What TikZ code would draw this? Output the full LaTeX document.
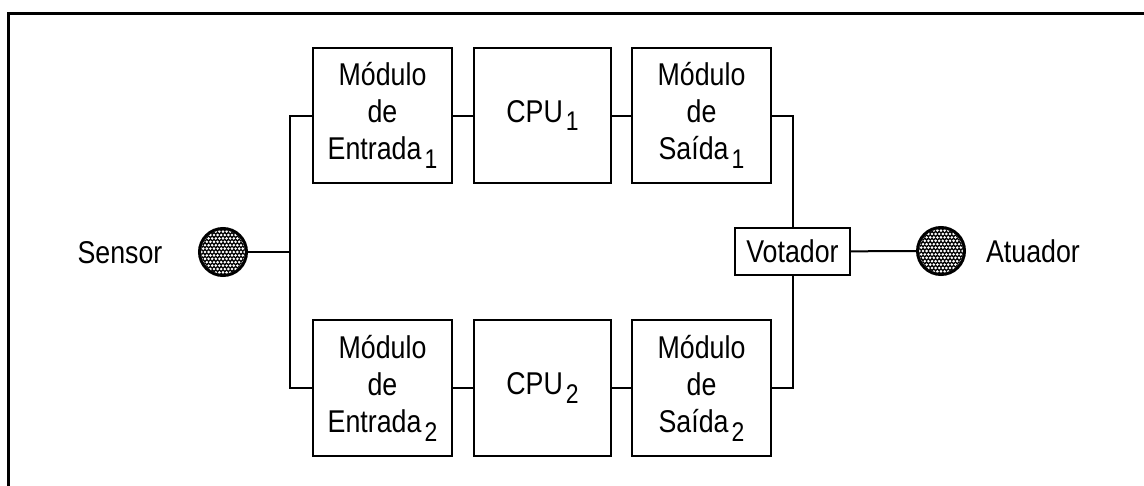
\documentclass[tikz,border=0pt]{standalone}
\usepackage{fontspec}
\setmainfont{Liberation Sans}[FakeStretch=0.85]
\newcommand\subs[1]{\hspace{3pt}\raisebox{-9pt}{\fontsize{27}{27}\selectfont #1}}
\begin{document}
\begin{tikzpicture}[x=1pt,y=-1pt,
  blk/.style={draw,line width=2pt,inner sep=0pt,align=center,minimum width=139pt,minimum height=135pt,font=\fontsize{31.5}{37}\selectfont},
  conn/.style={line width=2pt},
  lbl/.style={font=\fontsize{31.5}{37}\selectfont,inner sep=0pt},
  io/.style={circle,draw,line width=3pt,minimum size=47pt,inner sep=0pt}]
\useasboundingbox (0,0) rectangle (1144,485);
\draw[line width=3pt] (8,486) -- (8,13) -- (1145,13);
% boxes
\node[blk] (e1) at (382.5,115.5) {Módulo\\de\\Entrada\subs{1}};
\node[blk,minimum width=137pt] (c1) at (542.5,115.5) {CPU\subs{1}};
\node[blk] (s1) at (701.5,115.5) {Módulo\\de\\Saída\subs{1}};
\node[blk,minimum height=136pt] (e2) at (382.5,388) {Módulo\\de\\Entrada\subs{2}};
\node[blk,minimum width=137pt,minimum height=136pt] (c2) at (542.5,388) {CPU\subs{2}};
\node[blk,minimum height=136pt] (s2) at (701.5,388) {Módulo\\de\\Saída\subs{2}};
\node[draw,line width=2pt,inner sep=0pt,minimum width=115pt,minimum height=47pt,font=\fontsize{31.5}{37}\selectfont] (vot) at (792.5,251.5) {Votador};
% sensor / actuator patterns
\foreach \cx/\cy in {223/252, 941/251}{
  \begin{scope}
    \clip (\cx,\cy) circle (22pt);
    \fill[black] (\cx-25,\cy-25) rectangle (\cx+25,\cy+25);
    \foreach \i in {-7,...,7}{
      \foreach \j in {-7,...,7}{
        \pgfmathsetmacro\off{mod(abs(\j),2)*1.8}
        \fill[white] ({\cx+\i*3.6+\off},{\cy+\j*3.4}) circle (1.45pt);
      }
    }
  \end{scope}
}
\node[io] (sen) at (223,252) {};
\node[io] (act) at (941,251) {};
\node[lbl] (lsen) at (120,253) {Sensor};
\node[lbl] (lact) at (1033,251) {Atuador};
% connectors
\coordinate (jl) at (290,252);
\draw[conn] (sen) -- (jl);
\draw[conn] (e1.west) -| (jl) |- (e2.west);
\draw[conn] (e1) -- (c1);
\draw[conn] (c1) -- (s1);
\draw[conn] (e2) -- (c2);
\draw[conn] (c2) -- (s2);
\draw[conn] (s1.east) -| (vot.north);
\draw[conn] (s2.east) -| (vot.south);
\draw[conn] (vot) -- (act);
\end{tikzpicture}
\end{document}
